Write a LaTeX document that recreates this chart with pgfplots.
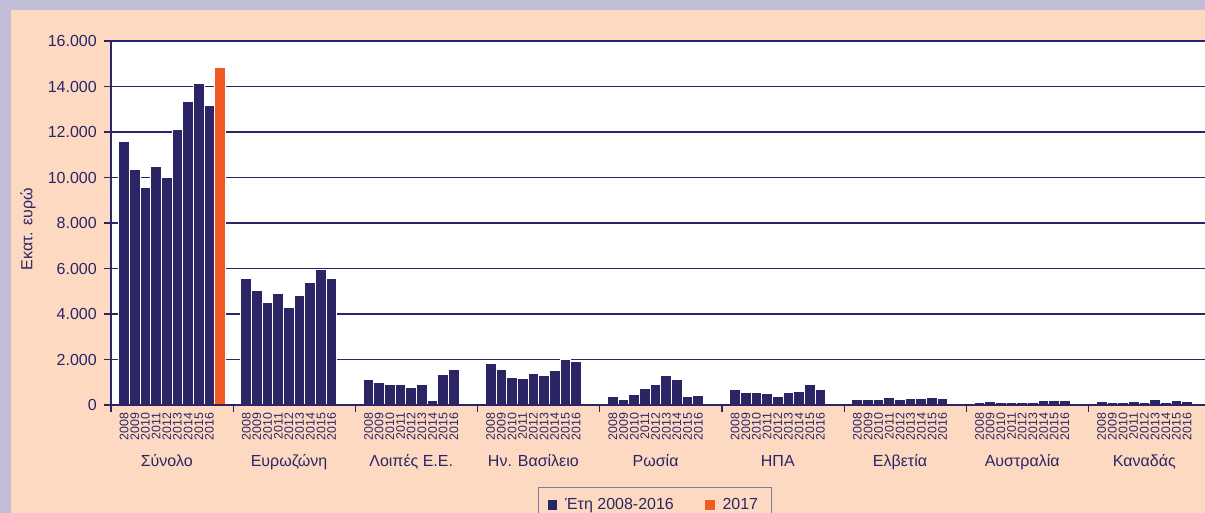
\documentclass[border=0pt]{standalone}
\usepackage{pgfplots}
\pgfplotsset{compat=1.18}
\usepackage{pgfplotstable}
\usepackage{fontspec}
\setmainfont{Liberation Sans}
\definecolor{peach}{HTML}{FDD9C1}
\definecolor{lav}{HTML}{C1BDD7}
\definecolor{navy}{HTML}{2B2566}
\definecolor{orng}{HTML}{F15A24}
\definecolor{lgd}{HTML}{7F79B0}

\pgfplotstableread{
g j year v
0 0 2008 11600
0 1 2009 10370
0 2 2010 9580
0 3 2011 10470
0 4 2012 9990
0 5 2013 12120
0 6 2014 13360
0 7 2015 14110
0 8 2016 13170
1 0 2008 5550
1 1 2009 5020
1 2 2010 4490
1 3 2011 4910
1 4 2012 4270
1 5 2013 4810
1 6 2014 5400
1 7 2015 5970
1 8 2016 5550
2 0 2008 1100
2 1 2009 980
2 2 2010 880
2 3 2011 880
2 4 2012 790
2 5 2013 920
2 6 2014 190
2 7 2015 1330
2 8 2016 1540
3 0 2008 1820
3 1 2009 1580
3 2 2010 1200
3 3 2011 1160
3 4 2012 1380
3 5 2013 1300
3 6 2014 1510
3 7 2015 1980
3 8 2016 1900
4 0 2008 370
4 1 2009 250
4 2 2010 450
4 3 2011 720
4 4 2012 910
4 5 2013 1300
4 6 2014 1110
4 7 2015 380
4 8 2016 400
5 0 2008 670
5 1 2009 540
5 2 2010 560
5 3 2011 500
5 4 2012 370
5 5 2013 540
5 6 2014 610
5 7 2015 890
5 8 2016 670
6 0 2008 230
6 1 2009 250
6 2 2010 220
6 3 2011 320
6 4 2012 260
6 5 2013 290
6 6 2014 290
6 7 2015 340
6 8 2016 290
7 0 2008 120
7 1 2009 150
7 2 2010 100
7 3 2011 100
7 4 2012 100
7 5 2013 130
7 6 2014 190
7 7 2015 190
7 8 2016 180
8 0 2008 150
8 1 2009 100
8 2 2010 100
8 3 2011 150
8 4 2012 100
8 5 2013 220
8 6 2014 120
8 7 2015 190
8 8 2016 150
}\bars

\begin{document}
\begin{tikzpicture}
\useasboundingbox (0,0) rectangle (602.5pt,256.5pt);
\clip (0,0) rectangle (602.5pt,256.5pt);
\fill[peach] (0,0) rectangle (602.5pt,256.5pt);
\fill[lav] (0,251.5pt) rectangle (602.5pt,256.5pt);
\fill[lav] (0,0) rectangle (5.5pt,256.5pt);
\begin{axis}[
  at={(55.5pt,54pt)}, anchor=south west,
  scale only axis, width=547pt, height=182pt,
  xmin=0, xmax=8.9525, ymin=0, ymax=16000,
  clip=false,
  axis x line*=bottom, axis y line*=left,
  axis line style={navy, line width=0.7pt, -},
  axis background/.style={fill=white},
  tick align=outside, major tick length=3.6pt,
  ytick={0,2000,...,16000},
  scaled y ticks=false,
  ymajorgrids, grid style={navy, line width=0.6pt},
  ytick style={navy, line width=0.6pt},
  yticklabel style={font=\fontsize{8}{9}\selectfont, text=navy,
     /pgf/number format/1000 sep={.}, /pgf/number format/assume math mode=true},
  xtick=data,
  xticklabels from table={\bars}{year},
  xtick style={draw=none},
  xticklabel style={rotate=90, anchor=east, inner sep=0pt,
     font=\fontsize{6.2}{6.2}\selectfont, text=navy},
  extra x ticks={0,1,...,8},
  extra x tick labels={},
  extra x tick style={xtick style={draw=navy, line width=0.6pt}},
  ylabel={Εκατ. ευρώ},
  every axis y label/.style={at={(axis description cs:-0.0759,0.483)}, rotate=90, anchor=center,
     font=\fontsize{8}{9}\selectfont, text=navy},
  legend style={at={(axis description cs:0.3903,-0.2261)}, anchor=north west,
     draw=lgd, line width=0.6pt, fill=none, text=navy,
     font=\fontsize{8}{9}\selectfont, legend columns=2,
     inner xsep=4.5pt, inner ysep=3pt,
     /tikz/every odd column/.append style={column sep=2pt},
     /tikz/every even column/.append style={column sep=13.5pt}},
  legend image code/.code={\fill[#1,draw=none] (0pt,-2.4pt) rectangle (4.8pt,2.4pt);},
]
\addplot[ybar, bar shift=0pt, bar width=0.0873, fill=navy, draw=white, line width=0.5pt]
  table[x expr=\thisrow{g}+0.1072+0.0873*\thisrow{j}, y=v]{\bars};
\addplot[ybar, bar shift=0pt, bar width=0.0873, fill=orng, draw=white, line width=0.5pt]
  coordinates {(0.893,14840)};
\legend{Έτη 2008-2016, 2017}
\draw[navy, line width=0.7pt] (axis cs:0,0) -- (axis cs:8.9525,0);
\foreach \g/\n in {0/Σύνολο, 1/Ευρωζώνη, 2/Λοιπές Ε.Ε., 3/Ην. Βασίλειο, 4/Ρωσία, 5/ΗΠΑ, 6/Ελβετία, 7/Αυστραλία, 8/Καναδάς}{
  \edef\temp{\noexpand\node[anchor=base, text=navy, font=\noexpand\fontsize{8}{9}\noexpand\selectfont, yshift=-30.85pt] at (axis cs:\g+0.4564,0) {\n};}
  \temp
}
\end{axis}
\end{tikzpicture}
\end{document}
